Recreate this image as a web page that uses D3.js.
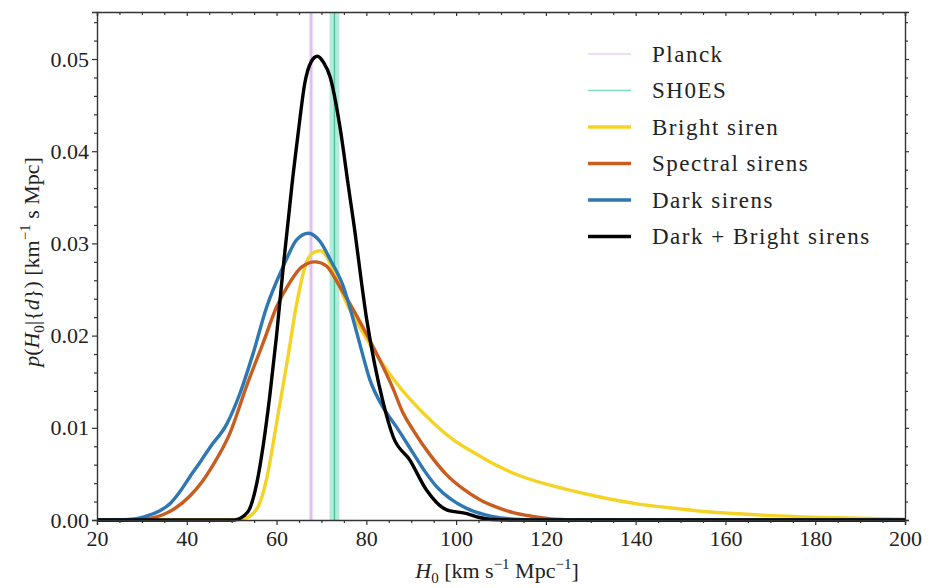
<!DOCTYPE html>
<html>
<head>
<meta charset="utf-8">
<script src="https://cdn.jsdelivr.net/npm/d3@7"></script>
<style>
  body { margin: 0; background: #fff; }
</style>
</head>
<body>
<div id="chart"></div>
<script>
// H0 posteriors as [H0, p] pairs
const brightSiren = [[20,0],[50.5,0],[53,0.0002],[55.6,0.0012],[57.8,0.0045],[60,0.0105],[62.3,0.0170],[64.5,0.0235],[66.7,0.0280],[68.2,0.0290],[69.7,0.0292],[71,0.0287],[72.5,0.0272],[75.6,0.0235],[79,0.0205],[83,0.0174],[86.5,0.0150],[90.5,0.0127],[95,0.0105],[99.4,0.0087],[104,0.0073],[108.3,0.0061],[114.2,0.0048],[123.1,0.0035],[131,0.0026],[141,0.0017],[148,0.0013],[155.8,0.0009],[162,0.0007],[169.2,0.0005],[184,0.00025],[200,0.0001]];
const spectralSirens = [[20,0],[28,0.00005],[32,0.0002],[34.8,0.0006],[37.5,0.0013],[40.7,0.0026],[43.5,0.0042],[45.9,0.0060],[49.6,0.0094],[53.3,0.0145],[57,0.0192],[60,0.0231],[63,0.0258],[65.5,0.0274],[68.6,0.0280],[71,0.0276],[74.1,0.0253],[78,0.0220],[81.5,0.0188],[86,0.0142],[88,0.0118],[90.5,0.0097],[94,0.0072],[97.9,0.0049],[101.5,0.0034],[105.3,0.0022],[109,0.0014],[112.7,0.0008],[117,0.0004],[122,0.0001],[130,0],[200,0]];
const darkSirens = [[20,0],[24,0.00003],[28,0.0001],[31.5,0.0005],[34,0.0010],[36.3,0.0018],[38.5,0.0031],[40.7,0.0047],[43,0.0063],[45.2,0.0079],[48.9,0.0104],[51.9,0.0138],[54.8,0.0181],[57.8,0.0231],[61.5,0.0275],[64.5,0.0304],[67.1,0.0311],[69.7,0.0302],[72,0.0282],[74.9,0.0253],[77.1,0.0217],[78.6,0.0190],[80.8,0.0152],[83.5,0.0124],[86.7,0.0101],[90.5,0.0072],[93,0.0053],[95.7,0.0036],[99,0.0022],[103.1,0.0011],[108,0.0004],[113,0.0001],[120,0],[200,0]];
const darkBright = [[20,0],[50,0],[51.5,0.0001],[52.6,0.0004],[54,0.0012],[55.6,0.0040],[57,0.0080],[58.5,0.0135],[60,0.0200],[61.5,0.0275],[62.6,0.0325],[63.4,0.0362],[64.8,0.0419],[66.3,0.0474],[67.7,0.0497],[69.1,0.0503],[70.5,0.0496],[71.9,0.0481],[74.1,0.0427],[76,0.0362],[77.1,0.0325],[80.1,0.0217],[83.8,0.01265],[86,0.0090],[89.7,0.0065],[93.4,0.00325],[97.9,0.0011],[102.4,0.0007],[105,0.0003],[108,0.00005],[112,0],[200,0]];

// reference measurements: [centre, half width]
const planck = [67.7, 0.5];
const shoes = [72.9, 1.1];

const xTicks = [20, 40, 60, 80, 100, 120, 140, 160, 180, 200];
const yTicks = [0, 0.01, 0.02, 0.03, 0.04, 0.05];

const legendNames = ['Planck', 'SH0ES', 'Bright siren', 'Spectral sirens', 'Dark sirens', 'Dark + Bright sirens'];
const legendColors = ['#dcbcf3', '#7fd8bf', '#f4d324', '#c95d1f', '#2f77b2', '#000000'];
const legendWidths = [1.2, 1.6, 3.4, 3.4, 3.4, 3.4];

const serif = '"Liberation Serif", "DejaVu Serif", "Noto Serif", "Times New Roman", FreeSerif, serif';

const width = 931, height = 588;
const margin = { top: 12, right: 26, bottom: 68, left: 97 };
const w = width - margin.left - margin.right;
const h = height - margin.top - margin.bottom;

const svg = d3.select('#chart').append('svg')
  .attr('width', width).attr('height', height)
  .style('font-family', serif);
const g = svg.append('g').attr('transform', `translate(${margin.left},${margin.top})`);

const x = d3.scaleLinear().domain([20, 200]).range([0, w]);
const y = d3.scaleLinear().domain([0, 0.0551]).range([h, 0]);

// reference bands
g.append('rect')
  .attr('x', x(planck[0] - planck[1])).attr('width', x(planck[0] + planck[1]) - x(planck[0] - planck[1]))
  .attr('y', 0).attr('height', h).attr('fill', '#e9d6f8').attr('opacity', 0.8);
g.append('line')
  .attr('x1', x(planck[0])).attr('x2', x(planck[0])).attr('y1', 0).attr('y2', h)
  .attr('stroke', '#d4b0ef').attr('stroke-width', 1.2);
g.append('rect')
  .attr('x', x(shoes[0] - shoes[1])).attr('width', x(shoes[0] + shoes[1]) - x(shoes[0] - shoes[1]))
  .attr('y', 0).attr('height', h).attr('fill', '#a6e9d6').attr('opacity', 0.85);
g.append('line')
  .attr('x1', x(shoes[0])).attr('x2', x(shoes[0])).attr('y1', 0).attr('y2', h)
  .attr('stroke', '#48c49f').attr('stroke-width', 1.4);

const line = d3.line()
  .x(d => x(d[0]))
  .y(d => y(d[1]))
  .curve(d3.curveMonotoneX);

const series = [brightSiren, spectralSirens, darkSirens, darkBright];
series.forEach((s, i) => {
  g.append('path')
    .datum(s)
    .attr('fill', 'none')
    .attr('stroke', legendColors[i + 2])
    .attr('stroke-width', 3.4)
    .attr('stroke-linejoin', 'round')
    .attr('d', line);
});

// axes with major + minor ticks on all four sides
const minorX = d3.range(20, 201, 5).filter(v => v % 20 !== 0);
const minorY = d3.range(0, 0.0551, 0.002).filter(v => Math.abs(v / 0.01 - Math.round(v / 0.01)) > 1e-6);

function styleAxis(sel) {
  sel.attr('font-family', serif);
  sel.select('.domain').attr('stroke', '#333').attr('stroke-width', 1.4);
  sel.selectAll('.tick line').attr('stroke', '#333').attr('stroke-width', 1.2);
  sel.selectAll('.tick text')
    .style('font-family', serif).style('font-size', '22px').attr('fill', '#222');
}

g.append('g').attr('transform', `translate(0,${h})`)
  .call(d3.axisBottom(x).tickValues(xTicks).tickFormat(d3.format('d')).tickSize(5).tickPadding(5))
  .call(styleAxis);
g.append('g').attr('transform', `translate(0,${h})`)
  .call(d3.axisBottom(x).tickValues(minorX).tickFormat('').tickSize(3))
  .call(styleAxis).select('.domain').remove();
g.append('g')
  .call(d3.axisTop(x).tickValues(xTicks).tickFormat('').tickSize(-4))
  .call(styleAxis);
g.append('g')
  .call(d3.axisTop(x).tickValues(minorX).tickFormat('').tickSize(-3))
  .call(styleAxis).select('.domain').remove();

g.append('g')
  .call(d3.axisLeft(y).tickValues(yTicks).tickFormat(d3.format('.2f')).tickSize(5).tickPadding(3))
  .call(styleAxis);
g.append('g')
  .call(d3.axisLeft(y).tickValues(minorY).tickFormat('').tickSize(3))
  .call(styleAxis).select('.domain').remove();
g.append('g').attr('transform', `translate(${w},0)`)
  .call(d3.axisRight(y).tickValues(yTicks).tickFormat('').tickSize(4))
  .call(styleAxis);
g.append('g').attr('transform', `translate(${w},0)`)
  .call(d3.axisRight(y).tickValues(minorY).tickFormat('').tickSize(3))
  .call(styleAxis).select('.domain').remove();

// x label
const xl = g.append('text')
  .attr('x', w / 2 - 4).attr('y', h + 58)
  .attr('text-anchor', 'middle')
  .style('font-family', serif).style('font-size', '22px').attr('fill', '#222');
xl.append('tspan').style('font-style', 'italic').text('H');
xl.append('tspan').attr('dy', 5).style('font-size', '15px').text('0');
xl.append('tspan').attr('dy', -5).text(' [km s');
xl.append('tspan').attr('dy', -9).style('font-size', '15px').text('−1');
xl.append('tspan').attr('dy', 9).text(' Mpc');
xl.append('tspan').attr('dy', -9).style('font-size', '15px').text('−1');
xl.append('tspan').attr('dy', 9).text(']');

// y label
const yl = g.append('text')
  .attr('transform', 'rotate(-90)')
  .attr('x', -250).attr('y', -58)
  .attr('text-anchor', 'middle')
  .style('font-family', serif).style('font-size', '22px').attr('fill', '#222');
yl.append('tspan').style('font-style', 'italic').text('p');
yl.append('tspan').text('(');
yl.append('tspan').style('font-style', 'italic').text('H');
yl.append('tspan').attr('dy', 5).style('font-size', '15px').text('0');
yl.append('tspan').attr('dy', -5).text('|{');
yl.append('tspan').style('font-style', 'italic').text('d');
yl.append('tspan').text('}) [km');
yl.append('tspan').attr('dy', -9).style('font-size', '15px').text('−1');
yl.append('tspan').attr('dy', 9).text(' s Mpc]');

// legend
const legend = svg.append('g').attr('transform', 'translate(588,54)');
legendNames.forEach((name, i) => {
  const row = legend.append('g').attr('transform', `translate(0,${i * 36.5})`);
  row.append('line')
    .attr('x1', 0).attr('x2', 43).attr('y1', 0).attr('y2', 0)
    .attr('stroke', legendColors[i]).attr('stroke-width', legendWidths[i]);
  row.append('text')
    .attr('x', 64).attr('y', 7.5)
    .style('font-family', serif).style('font-size', '23px').style('letter-spacing', '1.5px')
    .attr('fill', '#222')
    .text(name);
});
</script>
</body>
</html>
